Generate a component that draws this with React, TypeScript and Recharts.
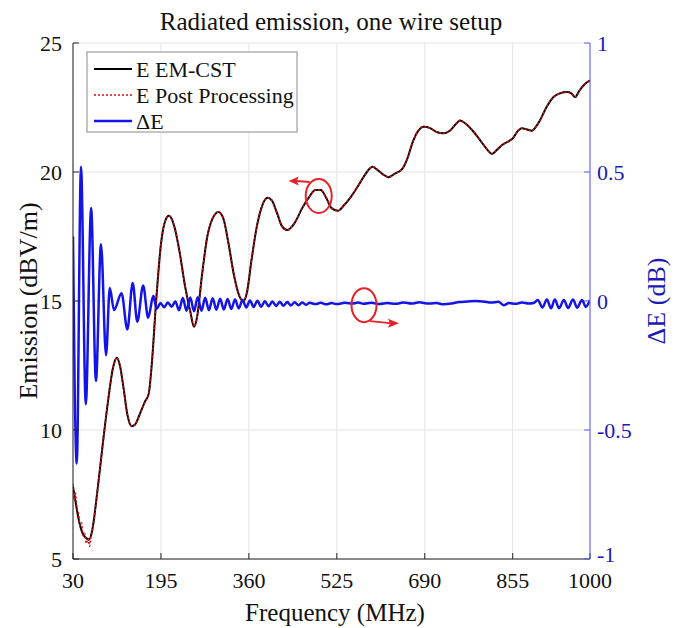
import React from 'react';
import { LineChart, Line, XAxis, YAxis, CartesianGrid, ReferenceDot } from 'recharts';

// ---- Data ----
const xTicks = [30, 195, 360, 525, 690, 855, 1000];
const leftTicks = [5, 10, 15, 20, 25];
const rightTicks = [-1, -0.5, 0, 0.5, 1];

// E EM-CST (dBV/m)
const emFreq = [30, 35, 40, 48, 55, 60, 66, 75, 85, 95, 105, 112, 118, 125, 132, 140, 146, 155, 165, 172, 178, 186, 195, 203, 210, 220, 230, 240, 250, 257, 263, 272, 282, 292, 303, 312, 322, 332, 342, 350, 356, 365, 375, 385, 395, 403, 413, 422, 432, 445, 460, 472, 485, 495, 505, 515, 527, 538, 550, 563, 575, 585, 592, 600, 612, 622, 635, 647, 657, 668, 678, 688, 700, 712, 725, 737, 748, 756, 765, 780, 795, 808, 816, 825, 835, 848, 855, 865, 872, 882, 891, 900, 906, 918, 931, 944, 957, 965, 972, 980, 990, 1000];
const emCst = [7.8, 7.2, 6.6, 6.0, 5.8, 5.75, 6.1, 7.5, 9.3, 11.0, 12.4, 12.8, 12.5, 11.6, 10.6, 10.15, 10.2, 10.6, 11.1, 11.4, 12.6, 15.0, 17.2, 18.1, 18.3, 17.9, 16.9, 15.6, 14.6, 14.0, 14.4, 16.0, 17.5, 18.2, 18.45, 18.2, 17.2, 16.0, 15.2, 15.0, 15.3, 16.6, 17.9, 18.7, 19.0, 18.9, 18.4, 17.9, 17.75, 18.0, 18.6, 19.0, 19.3, 19.3, 19.0, 18.6, 18.5, 18.7, 19.0, 19.4, 19.8, 20.1, 20.2, 20.1, 19.9, 19.8, 19.95, 20.1, 20.5, 21.2, 21.6, 21.75, 21.7, 21.55, 21.5, 21.6, 21.85, 22.0, 21.9, 21.6, 21.2, 20.85, 20.7, 20.85, 21.05, 21.2, 21.3, 21.6, 21.7, 21.65, 21.6, 21.8, 22.0, 22.5, 22.9, 23.05, 23.1, 23.05, 22.9, 23.15, 23.4, 23.55];

// E Post Processing: noisy start, then follows EM-CST
const ppStartFreq = [30, 32, 34, 37, 40, 43, 46, 49, 52, 55, 58, 61, 64, 67];
const ppStartVal = [7.9, 7.3, 7.6, 7.0, 6.8, 6.3, 6.4, 5.9, 6.0, 5.6, 5.8, 5.5, 5.9, 6.2];

// Delta E (dB)
const dEFreq = [30, 37, 45, 54, 64, 73, 82.5, 92, 99, 107, 121, 132, 142, 150.6, 161.6, 171, 180.7, 187, 194, 201, 208, 215, 222, 229, 236, 243, 250, 257, 264, 271, 278, 285, 292, 299, 306, 313, 320, 327, 334, 341, 348, 355, 362, 369, 376, 383, 390, 397, 404, 411, 418, 425, 432, 439, 446, 453, 460, 467, 474, 485, 495, 505, 515, 525, 540, 555, 565, 575, 590, 605, 620, 635, 650, 665, 680, 690, 700, 712, 725, 740, 755, 770, 785, 800, 815, 828, 838, 848, 860, 872, 885, 894, 902, 911, 919, 927, 934, 942, 951, 959, 968, 976, 985, 992, 1000];
const dEVal = [0.25, -0.63, 0.52, -0.40, 0.36, -0.31, 0.22, -0.21, 0.05, -0.035, 0.03, -0.11, 0.07, -0.08, 0.06, -0.065, 0.02, -0.03, -0.008, -0.024, -0.006, -0.022, -0.002, -0.036, 0.012, -0.038, 0.014, -0.04, 0.015, -0.038, 0.013, -0.036, 0.011, -0.034, 0.009, -0.033, 0.008, -0.031, 0.006, -0.029, 0.004, -0.025, 0.002, -0.023, 0.001, -0.022, -0.001, -0.02, -0.002, -0.019, -0.003, -0.018, -0.004, -0.017, -0.005, -0.016, -0.006, -0.015, -0.007, -0.012, -0.007, -0.013, -0.008, -0.012, -0.007, -0.01, -0.006, -0.011, -0.007, -0.012, -0.008, -0.011, -0.006, -0.01, -0.005, -0.009, -0.01, -0.008, -0.013, -0.01, -0.004, -0.002, 0.0, -0.002, -0.006, -0.003, -0.016, -0.008, -0.011, -0.006, -0.01, -0.008, 0.004, -0.025, 0.006, -0.028, 0.006, -0.028, 0.004, -0.027, 0.006, -0.026, 0.004, -0.022, 0.004];

// ---- Built tables ----
const emData = emFreq.map((f, i) => ({ f, v: emCst[i] }));
const ppData = [
  ...ppStartFreq.map((f, i) => ({ f, v: ppStartVal[i] })),
  ...emFreq.map((f, i) => ({ f, v: emCst[i] })).filter((d) => d.f >= 75),
];
const dEData = dEFreq.map((f, i) => ({ f, v: dEVal[i] }));

const FONT = '"Liberation Serif", "Times New Roman", serif';
const RED = '#e52228';
const BLUE_LINE = '#1414e6';
const BLUE_TEXT = '#1a1ab4';

const RightTick = (props: any) => {
  const { x, y, payload } = props;
  const shift = payload.value === -1 ? -5 : 0;
  return (
    <text x={x} y={y + shift} dy="0.35em" textAnchor="start" fontSize={22} fill={BLUE_TEXT} fontFamily={FONT}>
      {String(payload.value)}
    </text>
  );
};

const AnnotLeft = (props: any) => {
  const { cx, cy } = props;
  return (
    <g>
      <ellipse cx={cx} cy={cy} rx={13} ry={17} fill="none" stroke={RED} strokeWidth={2} />
      <line x1={cx - 9} y1={cy - 14} x2={cx - 22} y2={cy - 15} stroke={RED} strokeWidth={2} />
      <polygon points={`${cx - 30},${cy - 15} ${cx - 20},${cy - 19.5} ${cx - 22},${cy - 15} ${cx - 20},${cy - 10.5}`} fill={RED} />
    </g>
  );
};

const AnnotRight = (props: any) => {
  const { cx, cy } = props;
  return (
    <g>
      <ellipse cx={cx} cy={cy} rx={12.5} ry={17} fill="none" stroke={RED} strokeWidth={2} />
      <line x1={cx + 6} y1={cy + 16} x2={cx + 26} y2={cy + 18} stroke={RED} strokeWidth={2} />
      <polygon points={`${cx + 35},${cy + 18} ${cx + 24},${cy + 13.5} ${cx + 26},${cy + 18} ${cx + 24},${cy + 22.5}`} fill={RED} />
    </g>
  );
};

const legendItems = [
  { label: 'E EM-CST', color: '#000000', dash: undefined as string | undefined, w: 2 },
  { label: 'E Post Processing', color: '#d01010', dash: '2 2', w: 1.5 },
  { label: '\u0394E', color: BLUE_LINE, dash: undefined as string | undefined, w: 2.5 },
];

export default function App() {
  return (
    <div style={{ position: 'absolute', left: 0, top: 0, width: 675, height: 628, background: '#fff', fontFamily: FONT }}>
      <LineChart width={675} height={628} margin={{ top: 43, right: 0, bottom: 0, left: 0 }}>
        <CartesianGrid stroke="#e4e4e4" strokeWidth={1} yAxisId="left" />
        <XAxis
          dataKey="f"
          type="number"
          domain={[30, 1000]}
          ticks={xTicks}
          allowDataOverflow
          height={69}
          tickSize={-6}
          tickMargin={19}
          stroke="#222"
          tick={{ fill: '#111', fontSize: 22, fontFamily: FONT }}
        />
        <XAxis
          xAxisId="top"
          orientation="top"
          type="number"
          domain={[30, 1000]}
          ticks={xTicks}
          height={0}
          tickSize={-6}
          tickFormatter={() => ''}
          stroke="#666"
        />
        <YAxis
          yAxisId="left"
          type="number"
          domain={[5, 25]}
          ticks={leftTicks}
          width={73}
          tickSize={-6}
          tickMargin={17}
          stroke="#222"
          tick={{ fill: '#111', fontSize: 22, fontFamily: FONT }}
        />
        <YAxis
          yAxisId="right"
          orientation="right"
          type="number"
          domain={[-1, 1]}
          ticks={rightTicks}
          width={85}
          tickSize={-6}
          tickMargin={13}
          stroke="#5a5aff"
          tick={RightTick}
        />
        <Line
          yAxisId="left"
          data={emData}
          dataKey="v"
          type="monotone"
          stroke="#000"
          strokeWidth={2}
          dot={false}
          isAnimationActive={false}
        />
        <Line
          yAxisId="left"
          data={ppData}
          dataKey="v"
          type="monotone"
          stroke="#d01010"
          strokeWidth={1.6}
          strokeDasharray="2 2"
          dot={false}
          isAnimationActive={false}
        />
        <Line
          yAxisId="right"
          data={dEData}
          dataKey="v"
          type="monotone"
          stroke={BLUE_LINE}
          strokeWidth={2.5}
          dot={false}
          isAnimationActive={false}
        />
        <ReferenceDot yAxisId="left" x={491} y={19.07} ifOverflow="visible" shape={AnnotLeft} />
        <ReferenceDot yAxisId="right" x={576} y={-0.016} ifOverflow="visible" shape={AnnotRight} />
      </LineChart>
      <svg width={675} height={628} style={{ position: 'absolute', left: 0, top: 0, pointerEvents: 'none' }}>
        <text x={331} y={30} textAnchor="middle" fontSize={25} fill="#111" fontFamily={FONT}>
          Radiated emission, one wire setup
        </text>
        <text x={335} y={621} textAnchor="middle" fontSize={25} fill="#111" fontFamily={FONT}>
          Frequency (MHz)
        </text>
        <text x={0} y={0} transform="translate(37,301) rotate(-90)" textAnchor="middle" fontSize={26} fill="#111" fontFamily={FONT}>
          Emission (dBV/m)
        </text>
        <text x={0} y={0} transform="translate(665,301) rotate(-90)" textAnchor="middle" fontSize={26} fill={BLUE_TEXT} fontFamily={FONT}>
          {'\u0394E (dB)'}
        </text>
        <rect x={87} y={52} width={210} height={80} fill="#fff" stroke="#8a8a8a" strokeWidth={1} />
        {legendItems.map((it, i) => {
          const cy = 69 + i * 26;
          return (
            <g key={it.label}>
              <line x1={94} x2={132} y1={cy} y2={cy} stroke={it.color} strokeWidth={it.w} strokeDasharray={it.dash} />
              <text x={136} y={cy + 7.5} fontSize={22} fill="#111" fontFamily={FONT}>
                {it.label}
              </text>
            </g>
          );
        })}
      </svg>
    </div>
  );
}
